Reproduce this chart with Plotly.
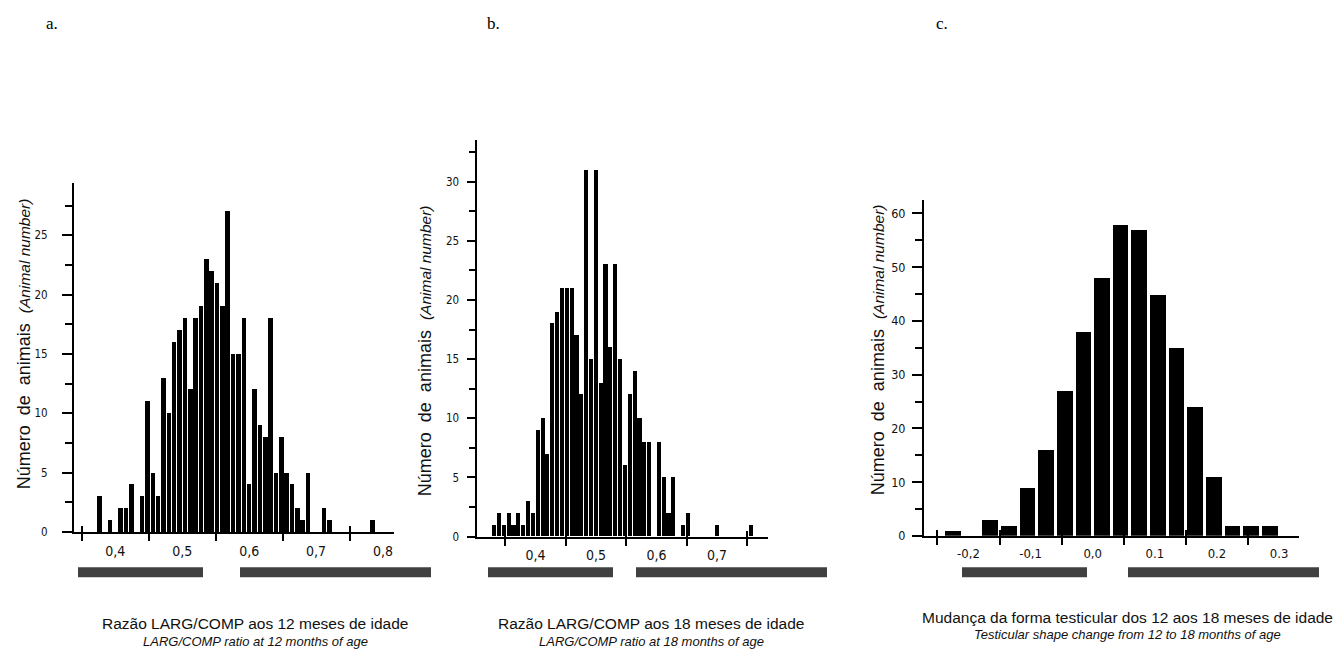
import plotly.graph_objects as go

W, H = 1343, 650

# ---------------- data ----------------
# Panel a: ratio at 12 months (bin centres, counts)
a_bins = [0.376, 0.392, 0.408, 0.416, 0.424, 0.440, 0.448, 0.456, 0.464, 0.472,
          0.480, 0.488, 0.496, 0.504, 0.512, 0.520, 0.528, 0.536, 0.544, 0.552,
          0.560, 0.568, 0.576, 0.584, 0.592, 0.600, 0.608, 0.616, 0.624, 0.632,
          0.640, 0.648, 0.656, 0.664, 0.672, 0.680, 0.688, 0.712, 0.720, 0.784]
a_counts = [3, 1, 2, 2, 4, 3, 11, 5, 3, 13,
            10, 16, 17, 18, 12, 18, 19, 23, 22, 21,
            19, 27, 15, 15, 18, 4, 12, 9, 8, 18,
            5, 8, 5, 4, 2, 1, 5, 2, 1, 1]
a_ticklabels = ["0,4", "0,5", "0,6", "0,7", "0,8"]
a_labelvals = [0.4, 0.5, 0.6, 0.7, 0.8]
a_tickmarks = [0.35, 0.45, 0.55, 0.65, 0.75]

# Panel b: ratio at 18 months
b_bins = [0.331, 0.339, 0.347, 0.355, 0.363, 0.371, 0.379, 0.387, 0.395, 0.403,
          0.411, 0.419, 0.427, 0.435, 0.443, 0.451, 0.459, 0.467, 0.475, 0.483,
          0.491, 0.499, 0.507, 0.515, 0.523, 0.531, 0.539, 0.547, 0.555, 0.563,
          0.571, 0.579, 0.587, 0.603, 0.611, 0.619, 0.627, 0.643, 0.651, 0.699,
          0.755]
b_counts = [1, 2, 1, 2, 1, 2, 1, 3, 2, 9,
            10, 7, 18, 19, 21, 21, 21, 17, 12, 31,
            15, 31, 13, 23, 16, 23, 15, 6, 12, 14,
            10, 8, 8, 8, 5, 2, 5, 1, 2, 1,
            1]
b_ticklabels = ["0,4", "0,5", "0,6", "0,7"]
b_labelvals = [0.4, 0.5, 0.6, 0.7]
b_tickmarks = [0.35, 0.45, 0.55, 0.65, 0.75]

# Panel c: change of shape 12 -> 18 months
c_bins = [-0.225, -0.165, -0.135, -0.105, -0.075, -0.045, -0.015, 0.015, 0.045,
          0.075, 0.105, 0.135, 0.165, 0.195, 0.225, 0.255, 0.285]
c_counts = [1, 3, 2, 9, 16, 27, 38, 48, 58,
            57, 45, 35, 24, 11, 2, 2, 2]
c_ticklabels = ["-0,2", "-0,1", "0,0", "0.1", "0.2", "0.3"]
c_labelvals = [-0.2, -0.1, 0.0, 0.1, 0.2, 0.3]
c_tickmarks = [-0.25, -0.15, -0.05, 0.05, 0.15, 0.25]

# ---------------- helpers ----------------
def px_x(v):
    return v / W


def px_y(v):
    return 1 - v / H


SANS = "Liberation Sans, Arial, sans-serif"
NARROW = "Liberation Sans Narrow, Arial Narrow, DejaVu Sans Condensed, Liberation Sans, Arial, sans-serif"
SERIF = "Liberation Serif, Times New Roman, serif"
TXT = "#111111"

fig = go.Figure()

fig.add_trace(go.Bar(x=a_bins, y=a_counts, width=0.0068,
                     marker=dict(color="black", line=dict(width=0)),
                     xaxis="x", yaxis="y", showlegend=False))
fig.add_trace(go.Bar(x=b_bins, y=b_counts, width=0.0068,
                     marker=dict(color="black", line=dict(width=0)),
                     xaxis="x2", yaxis="y2", showlegend=False))
fig.add_trace(go.Bar(x=c_bins, y=c_counts, width=0.0252,
                     marker=dict(color="black", line=dict(width=0)),
                     xaxis="x3", yaxis="y3", showlegend=False))
# empty traces so that the overlay tick axes are created
for ax, ay in (("x4", "y"), ("x5", "y2"), ("x6", "y3")):
    fig.add_trace(go.Scatter(x=[], y=[], xaxis=ax, yaxis=ay, showlegend=False,
                             hoverinfo="skip"))


def xcfg(domain, rng, labvals, labtext, marks, anchor, fsize, standoff):
    return dict(domain=domain, range=rng, anchor=anchor, showgrid=False,
                zeroline=False, showline=True, linecolor="black", linewidth=2,
                tickmode="array", tickvals=labvals, ticktext=labtext, ticks="",
                tickfont=dict(family=NARROW, size=fsize, color=TXT),
                ticklabelstandoff=standoff,
                minor=dict(tickmode="array", tickvals=marks, ticks="outside",
                           ticklen=7, tickwidth=2, tickcolor="black",
                           showgrid=False),
                fixedrange=True)


def xover(domain, rng, marks, over, anchor):
    return dict(domain=domain, range=rng, overlaying=over, anchor=anchor,
                showgrid=False, zeroline=False, showline=False,
                tickmode="array", tickvals=marks, ticks="inside", ticklen=6,
                tickwidth=2, tickcolor="black", showticklabels=False,
                fixedrange=True)


def ycfg(domain, rng, dtick, anchor, fsize, tlen, mlen, standoff):
    return dict(domain=domain, range=rng, anchor=anchor, showgrid=False,
                zeroline=False, showline=True, linecolor="black", linewidth=2,
                tickmode="linear", tick0=0, dtick=dtick, ticks="outside",
                ticklen=tlen, tickwidth=2, tickcolor="black",
                tickfont=dict(family=NARROW, size=fsize, color=TXT),
                ticklabelstandoff=standoff,
                minor=dict(tick0=0, dtick=dtick / 2, ticks="outside",
                           ticklen=mlen, tickwidth=2, tickcolor="black",
                           showgrid=False),
                fixedrange=True)


a_xdom = [px_x(74), px_x(394)]
a_ydom = [px_y(537.7), px_y(185)]
b_xdom = [px_x(476.5), px_x(768.3)]
b_ydom = [px_y(542.5), px_y(141.7)]
c_xdom = [px_x(924), px_x(1299)]
c_ydom = [px_y(541.7), px_y(201.7)]

a_xr = [0.3383, 0.8164]
b_xr = [0.3027, 0.7846]
c_xr = [-0.2715, 0.332]

fig.update_layout(
    width=W, height=H, autosize=False,
    margin=dict(l=0, r=0, t=0, b=0),
    paper_bgcolor="white", plot_bgcolor="rgba(0,0,0,0)",
    bargap=0,
    xaxis=xcfg(a_xdom, a_xr, a_labelvals, a_ticklabels, a_tickmarks, "y", 14, 5),
    yaxis=ycfg(a_ydom, [0, 29.4], 5, "x", 11.5, 10, 7, 12),
    xaxis2=xcfg(b_xdom, b_xr, b_labelvals, b_ticklabels, b_tickmarks, "y2", 14, 5),
    yaxis2=ycfg(b_ydom, [0, 33.5], 5, "x2", 11.5, 8, 6, 5),
    xaxis3=xcfg(c_xdom, c_xr, c_labelvals, c_ticklabels, c_tickmarks, "y3", 13, 5),
    yaxis3=ycfg(c_ydom, [0, 62.6], 10, "x3", 12.5, 10, 7, 4),
    xaxis4=xover(a_xdom, a_xr, a_tickmarks, "x", "y"),
    xaxis5=xover(b_xdom, b_xr, b_tickmarks, "x2", "y2"),
    xaxis6=xover(c_xdom, c_xr, c_tickmarks, "x3", "y3"),
)

# dark grey bands under each axis
bands = [(78, 203), (240, 431), (488, 613), (636, 827), (962, 1087), (1128, 1319)]
for x0, x1 in bands:
    fig.add_shape(type="rect", xref="paper", yref="paper",
                  x0=px_x(x0), x1=px_x(x1), y0=px_y(583.5), y1=px_y(573.5),
                  fillcolor="#404040", line=dict(width=0), layer="below")

# y-axis titles (rotated)
ytitle = ("Número&nbsp;&nbsp;de&nbsp;&nbsp;animais&nbsp;&nbsp;"
          "<i><span style='font-size:15.5px'>(Animal number)</span></i>")
for xc, yc in ((24, 348), (425, 355), (878, 354)):
    fig.add_annotation(text=ytitle, xref="paper", yref="paper",
                       x=px_x(xc), y=px_y(yc), xanchor="center", yanchor="middle",
                       textangle=-90, showarrow=False,
                       font=dict(family=SANS, size=18, color=TXT))

# panel letters
for lab, xc in (("a.", 51.5), ("b.", 494), ("c.", 941.5)):
    fig.add_annotation(text=lab, xref="paper", yref="paper",
                       x=px_x(xc), y=px_y(24), xanchor="center", yanchor="middle",
                       showarrow=False,
                       font=dict(family=SERIF, size=17, color="black"))

# x-axis titles (two lines each)
xt = [
    ("Razão LARG/COMP aos 12 meses de idade", "LARG/COMP ratio at 12 months of age", 255, 630, 648),
    ("Razão LARG/COMP aos 18 meses de idade", "LARG/COMP ratio at 18 months of age", 651, 630, 648),
    ("Mudança da forma testicular dos 12 aos 18 meses de idade",
     "Testicular shape change from 12 to 18 months of age", 1127, 624, 641),
]
for l1, l2, xc, y1, y2 in xt:
    fig.add_annotation(text=l1, xref="paper", yref="paper", x=px_x(xc), y=px_y(y1),
                       xanchor="center", yanchor="middle", showarrow=False,
                       font=dict(family=SANS, size=15.5, color=TXT))
    fig.add_annotation(text="<i>" + l2 + "</i>", xref="paper", yref="paper",
                       x=px_x(xc), y=px_y(y2), xanchor="center", yanchor="middle",
                       showarrow=False,
                       font=dict(family=SANS, size=13, color=TXT))

fig.write_html("out.html",
               config={"displayModeBar": False},
               post_script="document.body.style.margin='0px';"
                           "document.body.style.padding='0px';"
                           "document.body.style.overflow='hidden';")
